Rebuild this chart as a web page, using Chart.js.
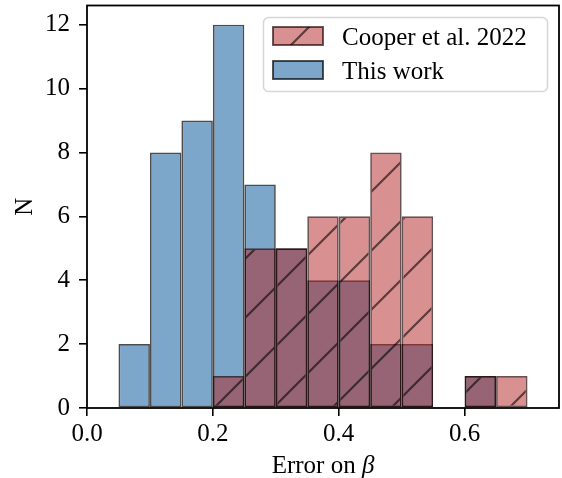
<!DOCTYPE html>
<html><head><meta charset="utf-8">
<script src="https://cdn.jsdelivr.net/npm/chart.js@4.4.1/dist/chart.umd.min.js"></script>
<style>html,body{margin:0;padding:0;background:#fff;}#wrap{width:562px;height:478px;}</style>
</head><body><div id="wrap"><canvas id="c" width="562" height="478"></canvas></div>
<script>
// ---- data ----
const binWidth = 0.05;
const binStarts = [0.00,0.05,0.10,0.15,0.20,0.25,0.30,0.35,0.40,0.45,0.50,0.55,0.60,0.65];
const cooper2022 = [0,0,0,0,1,5,5,6,6,8,6,0,1,1];
const thisWork   = [0,2,8,9,12,7,5,4,4,2,2,0,1,0];
const xTicks = [0.0,0.2,0.4,0.6];
const yTicks = [0,2,4,6,8,10,12];
const seriesLabels = ['Cooper et al. 2022','This work'];
const xTitleMain = 'Error on ';
const xTitleSym = 'β';
const yTitle = 'N';

const FONT = "'Liberation Serif', 'Times New Roman', serif";
const FS = 25;

function makeHatch(fill, hatchColor, size, lw, tx) {
  const c = document.createElement('canvas');
  c.width = size; c.height = size;
  const g = c.getContext('2d');
  g.fillStyle = fill; g.fillRect(0,0,size,size);
  g.strokeStyle = hatchColor; g.lineWidth = lw;
  g.beginPath();
  for (const k of [0, size, 2*size]) {
    g.moveTo(k + 6, -6);
    g.lineTo(k - size - 6, size + 6);
  }
  g.stroke();
  const ctx = document.getElementById('c').getContext('2d');
  const p = ctx.createPattern(c, 'repeat');
  p.setTransform(new DOMMatrix([1,0,0,1,tx,0]));
  return p;
}

const redFill = 'rgba(178,34,34,0.5)';
const blueFill = 'rgba(70,130,180,0.7)';
const redEdge = 'rgba(30,0,0,0.68)';
const blueEdge = 'rgba(0,0,0,0.7)';
const hatchCol = 'rgba(0,0,0,0.58)';
const redPattern = makeHatch(redFill, hatchCol, 59, 2.2, 32);
const legendPattern = makeHatch(redFill, hatchCol, 59, 2.2, 41);

const toPts = arr => binStarts.map((s,i) => ({x: s + binWidth/2, y: arr[i]}));

const framePlugin = {
  id: 'frame',
  afterDatasetsDraw(chart) {
    const {ctx, chartArea: a} = chart;
    ctx.save();
    ctx.strokeStyle = '#000'; ctx.lineWidth = 1.8;
    ctx.strokeRect(a.left, a.top, a.right - a.left, a.bottom - a.top);
    ctx.restore();
  }
};

const legendPlugin = {
  id: 'customLegend',
  afterDraw(chart) {
    const {ctx} = chart;
    const ds = chart.data.datasets;
    ctx.save();
    ctx.beginPath();
    ctx.roundRect(263.5, 17.5, 284, 74, 5);
    ctx.fillStyle = 'rgba(255,255,255,0.8)'; ctx.fill();
    ctx.strokeStyle = '#d6d6d6'; ctx.lineWidth = 1.5; ctx.stroke();
    const rows = [{y: 27, base: 45}, {y: 61, base: 78.5}];
    ds.forEach((d, i) => {
      const r = rows[i];
      ctx.fillStyle = i === 0 ? legendPattern : d.backgroundColor;
      ctx.fillRect(273, r.y, 50, 18);
      ctx.strokeStyle = d.borderColor; ctx.lineWidth = 1.9;
      ctx.strokeRect(273, r.y, 50, 18);
      ctx.fillStyle = '#000';
      ctx.font = FS + 'px ' + FONT;
      ctx.textBaseline = 'alphabetic'; ctx.textAlign = 'left';
      ctx.fillText(d.label, 342, r.base);
    });
    ctx.restore();
  }
};

const xTitlePlugin = {
  id: 'xTitle',
  afterDraw(chart) {
    const {ctx, chartArea: a} = chart;
    ctx.save();
    ctx.fillStyle = '#000';
    ctx.textBaseline = 'alphabetic'; ctx.textAlign = 'left';
    ctx.font = FS + 'px ' + FONT;
    const w1 = ctx.measureText(xTitleMain).width;
    ctx.font = 'italic ' + FS + 'px ' + FONT;
    const w2 = ctx.measureText(xTitleSym).width;
    const x0 = (a.left + a.right) / 2 - (w1 + w2) / 2;
    ctx.font = FS + 'px ' + FONT;
    ctx.fillText(xTitleMain, x0, 472.5);
    ctx.font = 'italic ' + FS + 'px ' + FONT;
    ctx.fillText(xTitleSym, x0 + w1, 472.5);
    ctx.restore();
  }
};

new Chart(document.getElementById('c'), {
  type: 'bar',
  data: {
    datasets: [
      {label: seriesLabels[0], data: toPts(cooper2022), backgroundColor: redPattern, borderColor: redEdge},
      {label: seriesLabels[1], data: toPts(thisWork), backgroundColor: blueFill, borderColor: blueEdge}
    ]
  },
  options: {
    responsive: false,
    animation: false,
    events: [],
    layout: {padding: {left: 0, top: 5.5, right: 3, bottom: 0}},
    datasets: {bar: {grouped: false, barPercentage: 1, categoryPercentage: 1, borderWidth: 1.7, borderSkipped: false, inflateAmount: 0}},
    plugins: {legend: {display: false}, tooltip: {enabled: false}},
    scales: {
      x: {
        type: 'linear', min: 0, max: 0.75, offset: false,
        afterBuildTicks: s => { s.ticks = xTicks.map(v => ({value: v})); },
        afterFit: s => { s.height = 70; s.paddingLeft = 0; s.paddingRight = 0; },
        ticks: {font: {family: FONT, size: FS}, color: '#000', padding: 3, maxRotation: 0,
                callback: v => Number(v).toFixed(1)},
        grid: {drawOnChartArea: false, drawTicks: true, tickLength: 8, color: '#000', lineWidth: 1.6, offset: false},
        border: {display: false}
      },
      y: {
        min: 0, max: 12.6,
        afterBuildTicks: s => { s.ticks = yTicks.map(v => ({value: v})); },
        afterFit: s => { s.width = 87; s.paddingTop = 0; s.paddingBottom = 0; },
        ticks: {font: {family: FONT, size: FS}, color: '#000', padding: 9,
                callback: v => String(v)},
        grid: {drawOnChartArea: false, drawTicks: true, tickLength: 8, color: '#000', lineWidth: 1.6},
        border: {display: false},
        title: {display: true, text: yTitle, font: {family: FONT, size: FS}, color: '#000', padding: {top: 10, bottom: 0}}
      }
    }
  },
  plugins: [framePlugin, legendPlugin, xTitlePlugin]
});
</script>
</body></html>
